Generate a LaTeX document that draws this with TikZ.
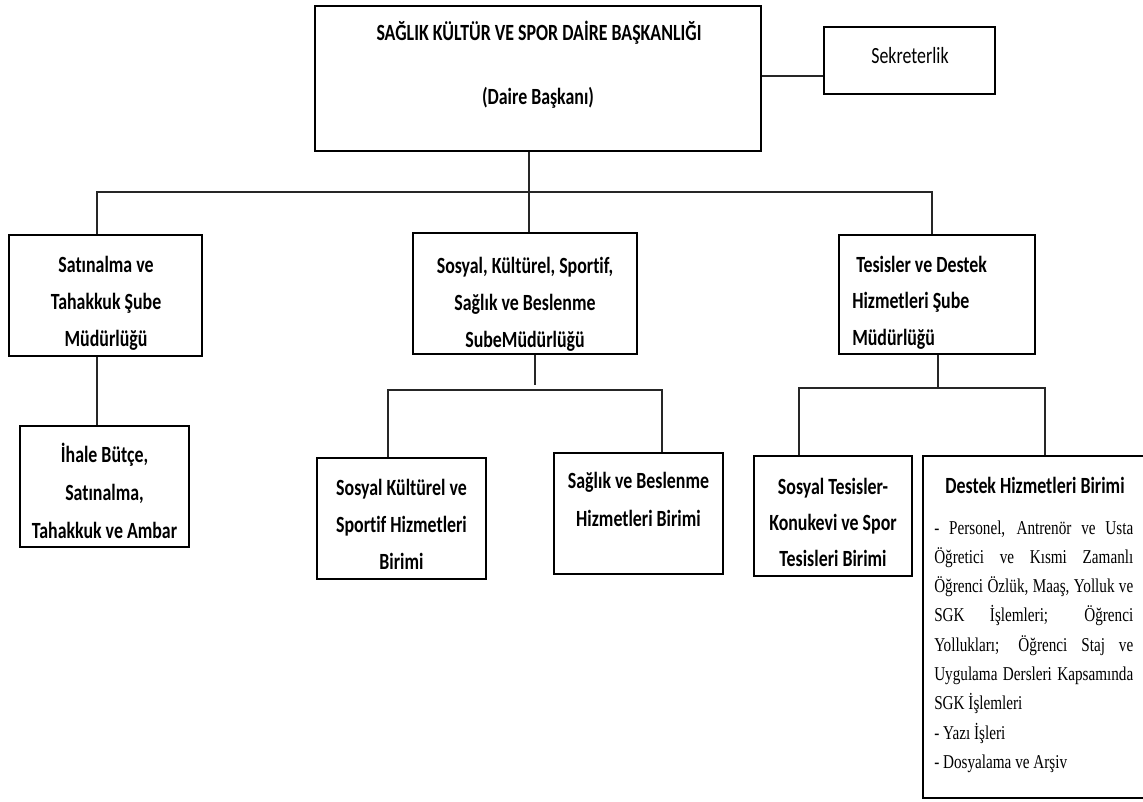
\documentclass[tikz,border=0pt]{standalone}
\usepackage{fontspec}
\setmainfont{Carlito}[FakeStretch=0.77,Ligatures={NoCommon}]
\newfontfamily\timesf{Liberation Serif}[FakeStretch=0.775,Ligatures={NoCommon}]
\usetikzlibrary{fit}
\newcommand\mklines[2]{\begin{tabular}[t]{@{}#1@{}}#2\end{tabular}}
\newcommand\jline[1]{\makebox[149.25pt][s]{#1}}
\tikzset{
  box/.style={draw=black, line width=1.1pt, inner sep=0pt, rectangle},
  lbl/.style={anchor=base, inner sep=0pt, text=black},
  bf/.style={font=\fontsize{17.4}{#1}\selectfont\bfseries},
  conn/.style={draw=black!85, line width=1pt},
}
\begin{document}
\begin{tikzpicture}[x=0.75pt,y=-0.75pt]
\useasboundingbox (0,0) rectangle (1143,801);
\fill[white] (0,0) rectangle (1143,801);
\clip (0,0) rectangle (1143,801);

% boxes
\node[box, fit={(315,6) (761,151)}] (top) {};
\node[box, fit={(824,27) (995,94)}] (sek) {};
\node[box, fit={(9,235) (202,356)}] (sat) {};
\node[box, fit={(413,233) (637,354)}] (sos) {};
\node[box, fit={(839,235) (1035,354)}] (tes) {};
\node[box, fit={(20,426) (189,547)}] (ihale) {};
\node[box, fit={(317,458) (486,579)}] (skh) {};
\node[box, fit={(554,453) (723,574)}] (sbh) {};
\node[box, fit={(754,456) (912,576)}] (stk) {};
\node[box, fit={(923,456) (1150,798)}] (dhb) {};

% texts
\node[lbl, bf=20pt] (top-t1) at (539,40) {SAĞLIK KÜLTÜR VE SPOR DAİRE BAŞKANLIĞI};
\node[lbl, bf=20pt] (top-t2) at (538,104) {(Daire Başkanı)};
\node[lbl, font=\fontsize{17.4}{20}\selectfont] (sek-t) at (910,63) {Sekreterlik};
\node[lbl, bf=28.1pt] (sat-t) at (106,272) {\mklines{c}{Satınalma ve\\Tahakkuk Şube\\Müdürlüğü}};
\node[lbl, bf=28.1pt] (sos-t) at (525,273) {\mklines{c}{Sosyal, Kültürel, Sportif,\\Sağlık ve Beslenme\\SubeMüdürlüğü}};
\node[lbl, bf=27.4pt, anchor=base west] (tes-t) at (852,272) {\mklines{l}{\hspace{3pt}Tesisler ve Destek\\Hizmetleri Şube\\Müdürlüğü}};
\node[lbl, bf=28.5pt] (ihale-t) at (104.5,462) {\mklines{c}{İhale Bütçe,\\Satınalma,\\Tahakkuk ve Ambar}};
\node[lbl, bf=28.1pt] (skh-t) at (401.5,495) {\mklines{c}{Sosyal Kültürel ve\\Sportif Hizmetleri\\Birimi}};
\node[lbl, bf=28.9pt] (sbh-t) at (638.5,488) {\mklines{c}{Sağlık ve Beslenme\\Hizmetleri Birimi}};
\node[lbl, bf=27pt] (stk-t) at (833,494) {\mklines{c}{Sosyal Tesisler-\\Konukevi ve Spor\\Tesisleri Birimi}};
\node[lbl, bf=20pt] (dhb-t) at (1035,493) {Destek Hizmetleri Birimi};
\node[lbl, anchor=base west, font=\timesf\fontsize{14.7}{21.98}\selectfont] (dhb-p) at (934,534) {\mklines{l}{%
\jline{- Personel, Antrenör ve Usta}\\
\jline{Öğretici ve Kısmi Zamanlı}\\
\jline{Öğrenci Özlük, Maaş, Yolluk ve}\\
\jline{SGK İşlemleri; Öğrenci}\\
\jline{Yollukları; Öğrenci Staj ve}\\
\jline{Uygulama Dersleri Kapsamında}\\
SGK İşlemleri\\
- Yazı İşleri\\
- Dosyalama ve Arşiv}};

% junction points
\coordinate (sy) at (800,76);
\coordinate (j1) at (97,192);
\coordinate (j2) at (529,192);
\coordinate (j3) at (932,192);
\coordinate (m0) at (535,385);
\coordinate (m1) at (388,390);
\coordinate (m2) at (662,390);
\coordinate (r0) at (938,388);
\coordinate (r1) at (799,388);
\coordinate (r2) at (1045,388);

% connectors
\draw[conn] (top.east |- sy) -- (sek.west |- sy);
\draw[conn] (top.south -| j2) -- (j2) -- (j2 |- sos.north);
\draw[conn] (j1 |- sat.north) -- (j1) -- (j3) -- (j3 |- tes.north);
\draw[conn] (sat.south -| j1) -- (ihale.north -| j1);
\draw[conn] (sos.south -| m0) -- (m0);
\draw[conn] (m1 |- skh.north) -- (m1) -- (m2) -- (m2 |- sbh.north);
\draw[conn] (tes.south -| r0) -- (r0);
\draw[conn] (r1 |- stk.north) -- (r1) -- (r2) -- (r2 |- dhb.north);
\end{tikzpicture}
\end{document}
